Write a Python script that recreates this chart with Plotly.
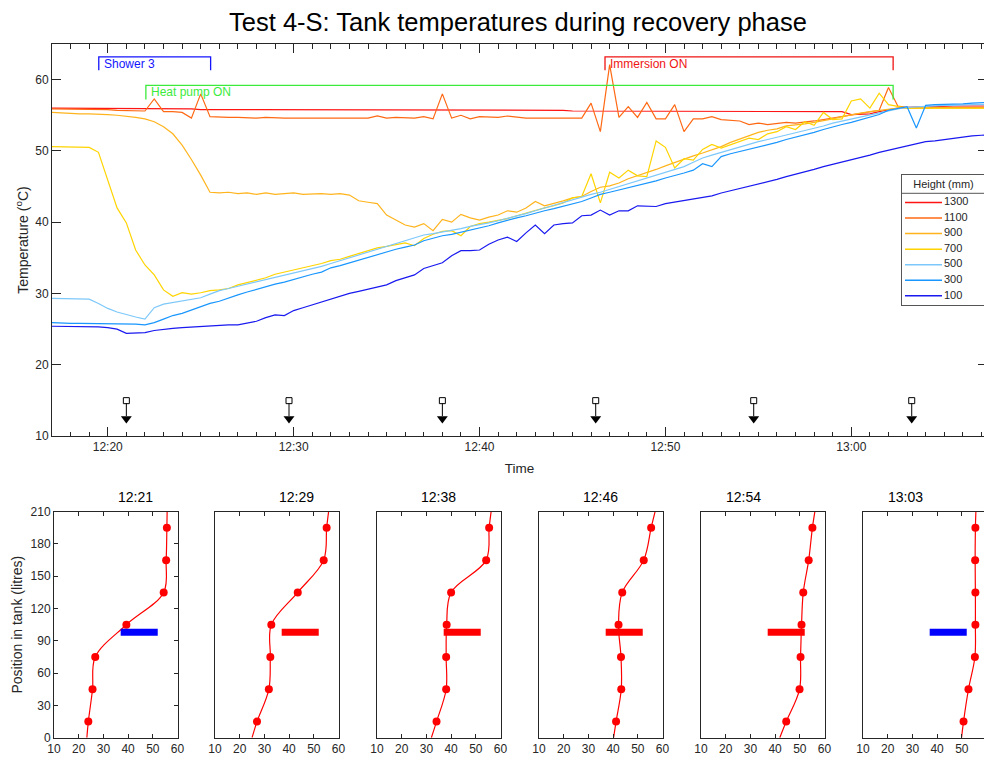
import pandas as pd
import plotly.graph_objects as go

FONT = "Liberation Sans, Arial, sans-serif"
INK = "#262626"

# tank sensor log, one reading every 30 s from 12:17:00
times = pd.date_range("2021-01-01 12:17:00", periods=102, freq="30s")

heights = ["1300", "1100", "900", "700", "500", "300", "100"]
colors = ["rgb(255,20,20)", "rgb(255,105,20)", "rgb(255,180,30)", "rgb(255,212,0)",
          "rgb(125,200,250)", "rgb(25,150,255)", "rgb(25,25,240)"]

t1300 = [56.0, 56.0, 56.0, 56.0, 56.0, 56.0, 55.9, 56.0, 55.9, 55.9,
         55.9, 55.9, 55.9, 55.9, 55.9, 55.9, 55.8, 55.8, 55.8, 55.8,
         55.8, 55.8, 55.8, 55.8, 55.8, 55.8, 55.8, 55.8, 55.8, 55.8,
         55.8, 55.8, 55.8, 55.8, 55.8, 55.7, 55.7, 55.7, 55.7, 55.7,
         55.7, 55.7, 55.7, 55.7, 55.7, 55.7, 55.7, 55.7, 55.7, 55.7,
         55.7, 55.7, 55.7, 55.7, 55.7, 55.7, 55.6, 55.6, 55.6, 55.6,
         55.6, 55.6, 55.6, 55.6, 55.6, 55.6, 55.6, 55.6, 55.6, 55.6,
         55.6, 55.6, 55.6, 55.6, 55.6, 55.6, 55.6, 55.6, 55.6, 55.6,
         55.6, 55.6, 55.6, 55.6, 55.6, 55.5, 55.1, 55.1, 55.2, 55.5,
         55.8, 56.0, 56.1, 56.2, 56.2, 56.2, 56.3, 56.3, 56.3, 56.3,
         56.3, 56.3]

t1100 = [55.9, 55.9, 55.8, 55.8, 55.8, 55.8, 55.8, 55.7, 55.7, 55.7,
         55.6, 57.3, 55.5, 55.5, 55.4, 54.6, 58.0, 54.8, 54.7, 54.7,
         54.7, 54.6, 54.6, 54.7, 54.6, 54.6, 54.6, 54.6, 54.6, 54.6,
         54.6, 54.6, 54.7, 54.6, 54.6, 54.9, 54.6, 54.7, 54.6, 54.6,
         54.8, 54.5, 58.0, 54.6, 55.0, 54.5, 54.8, 54.7, 54.7, 54.9,
         54.7, 54.6, 54.6, 54.6, 54.6, 54.6, 54.6, 54.6, 56.7, 52.7,
         62.1, 54.7, 56.2, 54.7, 56.8, 54.5, 54.5, 56.5, 52.7, 54.5,
         54.5, 54.8, 54.4, 54.3, 54.2, 53.7, 53.9, 53.7, 53.9, 54.0,
         53.9, 54.0, 54.2, 54.4, 54.6, 54.8, 55.0, 55.2, 55.4, 55.7,
         58.9, 56.3, 56.1, 56.0, 56.0, 56.1, 56.1, 56.0, 56.1, 56.1,
         56.1, 56.1]

t900 = [55.4, 55.3, 55.3, 55.2, 55.2, 55.2, 55.1, 55.0, 54.9, 54.7,
        54.5, 54.1, 53.4, 52.4, 50.8, 48.8, 46.6, 44.2, 44.1, 44.2,
        44.0, 44.1, 43.9, 44.1, 43.9, 44.0, 44.1, 43.9, 44.0, 44.0,
        43.9, 44.0, 43.8, 43.0, 42.8, 42.6, 41.0, 40.3, 39.6, 39.3,
        39.8, 38.8, 40.4, 40.0, 41.1, 40.6, 40.3, 40.7, 41.0, 41.6,
        41.4, 42.0, 42.9, 42.3, 42.6, 43.0, 43.4, 43.6, 44.3, 44.9,
        45.1, 45.5, 46.1, 46.5, 46.9, 47.4, 47.9, 48.4, 48.9, 49.3,
        49.7, 50.1, 50.6, 51.2, 51.7, 52.2, 52.6, 52.9, 53.1, 53.5,
        53.6, 53.8, 54.0, 54.2, 54.5, 54.8, 55.1, 55.3, 55.5, 55.7,
        55.9, 56.0, 56.0, 56.0, 56.0, 56.0, 56.0, 56.0, 56.0, 56.0,
        56.0, 56.0]

t700 = [50.6, 50.6, 50.5, 50.6, 50.5, 49.8, 46.0, 42.0, 39.9, 36.1,
        34.0, 32.6, 30.5, 29.6, 30.1, 29.9, 30.1, 30.4, 30.5, 30.7,
        31.2, 31.5, 31.9, 32.2, 32.7, 33.0, 33.2, 33.6, 33.9, 34.2,
        34.6, 34.8, 35.2, 35.6, 36.0, 36.4, 36.6, 36.9, 37.1, 36.7,
        37.7, 38.3, 38.7, 38.8, 38.1, 39.4, 39.8, 40.0, 40.2, 40.5,
        40.9, 41.3, 41.6, 42.0, 42.3, 42.7, 43.4, 43.6, 46.8, 42.7,
        47.0, 46.2, 47.3, 46.5, 46.4, 51.4, 50.5, 47.6, 48.9, 48.7,
        50.2, 50.9, 50.4, 50.9, 51.4, 51.8, 51.6, 52.4, 52.7, 53.4,
        53.0, 54.1, 53.6, 55.4, 54.4, 54.5, 57.0, 57.3, 56.0, 58.1,
        56.5, 56.2, 56.0, 56.0, 56.0, 56.0, 56.0, 56.0, 56.0, 56.0,
        56.0, 56.0]

t500 = [29.3, 29.3, 29.3, 29.3, 29.2, 28.6, 27.9, 27.4, 27.0, 26.7,
        26.4, 28.0, 28.5, 28.7, 28.9, 29.1, 29.4, 29.9, 30.4, 30.7,
        31.0, 31.3, 31.6, 31.9, 32.2, 32.5, 32.8, 33.1, 33.4, 33.8,
        34.2, 34.6, 35.0, 35.4, 35.8, 36.2, 36.7, 37.1, 37.5, 37.9,
        38.2, 38.4, 38.6, 38.9, 39.1, 39.4, 39.6, 39.9, 40.2, 40.5,
        40.9, 41.2, 41.6, 42.0, 42.3, 42.7, 43.1, 43.5, 43.9, 44.2,
        44.6, 45.0, 45.4, 45.8, 46.1, 46.5, 46.9, 47.3, 47.8, 48.4,
        49.0, 49.4, 49.8, 50.2, 50.6, 50.9, 51.3, 51.6, 51.9, 52.2,
        52.6, 52.9, 53.2, 53.5, 53.9, 54.2, 54.5, 54.8, 55.1, 55.4,
        55.7, 55.9, 56.1, 56.2, 56.3, 56.4, 56.4, 56.4, 56.5, 56.5,
        56.5, 56.5]

t300 = [25.9, 25.8, 25.8, 25.8, 25.8, 25.8, 25.8, 25.8, 25.7, 25.7,
        25.6, 25.9, 26.4, 26.9, 27.2, 27.7, 28.2, 28.6, 28.9, 29.4,
        29.8, 30.2, 30.6, 31.0, 31.3, 31.6, 32.0, 32.4, 32.7, 33.0,
        33.6, 33.9, 34.3, 34.6, 35.0, 35.4, 35.8, 36.2, 36.5, 36.8,
        37.4, 37.8, 38.1, 38.3, 38.6, 38.8, 39.2, 39.5, 39.9, 40.3,
        40.6, 40.9, 41.3, 41.6, 41.9, 42.2, 42.5, 42.9, 43.4, 43.9,
        44.2, 44.5, 44.9, 45.2, 45.5, 45.8, 46.2, 46.5, 46.9, 47.3,
        48.2, 47.8, 49.2, 49.6, 49.9, 50.3, 50.6, 50.9, 51.2, 51.6,
        51.9, 52.3, 52.6, 53.0, 53.4, 53.7, 54.0, 54.4, 54.7, 55.1,
        55.7, 56.0, 56.2, 53.2, 56.4, 56.5, 56.5, 56.6, 56.6, 56.7,
        56.8, 56.8]

t100 = [25.4, 25.4, 25.3, 25.3, 25.3, 25.3, 25.2, 25.0, 24.4, 24.5,
        24.5, 24.8, 25.0, 25.1, 25.2, 25.3, 25.4, 25.5, 25.6, 25.6,
        25.6, 25.8, 26.1, 26.6, 27.0, 26.9, 27.6, 28.0, 28.4, 28.9,
        29.2, 29.6, 30.0, 30.3, 30.6, 31.0, 31.2, 31.8, 32.2, 32.6,
        33.5, 33.9, 34.3, 35.3, 36.0, 36.0, 36.1, 36.9, 37.5, 37.9,
        37.3, 38.5, 39.6, 38.4, 39.6, 39.8, 39.9, 40.9, 41.0, 41.7,
        41.0, 41.6, 41.6, 42.3, 42.2, 42.2, 42.6, 42.8, 43.1, 43.3,
        43.5, 43.7, 44.1, 44.4, 44.8, 45.1, 45.4, 45.7, 46.0, 46.4,
        46.7, 47.0, 47.4, 47.8, 48.1, 48.5, 48.8, 49.0, 49.4, 49.8,
        50.1, 50.4, 50.8, 51.1, 51.3, 51.4, 51.6, 51.8, 52.0, 52.1,
        52.2, 52.3]

series = [t1300, t1100, t900, t700, t500, t300, t100]
for s in series:
    assert len(s) == len(times)

# events (bracket start, end, label, colour, bracket top, bracket foot)
events = [
    ("12:19:31", "12:25:32", "Shower 3", "rgb(20,20,255)", 63.2, 61.3),
    ("12:22:03", "13:02:15", "Heat pump ON", "rgb(60,235,60)", 59.2, 57.2),
    ("12:46:45", "13:02:15", "Immersion ON", "rgb(240,20,20)", 63.2, 61.3),
]

# profile snapshots
profile_times = ["12:21", "12:29", "12:38", "12:46", "12:54", "13:03"]
arrow_times = ["12:21:00", "12:29:45", "12:38:00", "12:46:15", "12:54:45", "13:03:15"]
sensor_pos = [15, 45, 75, 105, 135, 165, 195]
profiles = [
    [23.9, 25.6, 26.7, 39.3, 54.4, 55.4, 55.7],
    [27.0, 31.8, 32.4, 32.8, 43.5, 54.0, 55.2],
    [34.1, 38.0, 38.0, 38.2, 40.0, 54.2, 55.4],
    [41.2, 43.3, 43.2, 42.2, 43.7, 52.4, 55.4],
    [44.5, 49.9, 50.3, 50.7, 51.4, 53.6, 55.1],
    [50.7, 52.7, 55.3, 55.5, 55.5, 55.4, 55.5],
]
profile_bottom = [23.3, 25.0, 32.0, 40.2, 41.9, 49.9]   # curve at 0 litres
profile_top = [55.8, 56.0, 56.2, 57.0, 56.1, 55.7]      # curve at 210 litres
bar_colors = ["rgb(0,0,255)", "rgb(255,0,0)", "rgb(255,0,0)",
              "rgb(255,0,0)", "rgb(255,0,0)", "rgb(0,0,255)"]
bar_pos = 98
bar_span = [37, 52]

day = "2021-01-01 "
# the page puts the figure 8 px in from the window corner
OFF = 8
W, H = 992 - OFF, 758 - OFF


def px_x(p):
    return (p - OFF) / W


def px_y(p):
    return 1 - (p - OFF) / H


fig = go.Figure()

for name, col, vals in zip(heights, colors, series):
    fig.add_trace(go.Scatter(x=times, y=vals, name=name, mode="lines", showlegend=False,
                             line=dict(color=col, width=1.2), xaxis="x", yaxis="y"))

for start, end, label, col, top, foot in events:
    fig.add_trace(go.Scatter(x=[day + start, day + start, day + end, day + end],
                             y=[foot, top, top, foot], mode="lines",
                             line=dict(color=col, width=1.3), showlegend=False,
                             hoverinfo="skip", xaxis="x", yaxis="y"))
    fig.add_annotation(x=day + start, y=(top + foot) / 2, xref="x", yref="y",
                       text=label, showarrow=False, xanchor="left", xshift=3,
                       font=dict(color=col, size=12))

# arrows marking the profile times
ax_ = [day + a for a in arrow_times]
shaft_x, shaft_y = [], []
for a in ax_:
    shaft_x += [a, a, None]
    shaft_y += [14.6, 12.8, None]
fig.add_trace(go.Scatter(x=shaft_x, y=shaft_y, mode="lines", line=dict(color="black", width=1),
                         showlegend=False, hoverinfo="skip", xaxis="x", yaxis="y"))
fig.add_trace(go.Scatter(x=ax_, y=[12.42] * len(ax_), mode="markers",
                         marker=dict(symbol="triangle-down", size=9.5, color="black"),
                         showlegend=False, hoverinfo="skip", xaxis="x", yaxis="y"))
fig.add_trace(go.Scatter(x=ax_, y=[14.96] * len(ax_), mode="markers",
                         marker=dict(symbol="square-open", size=6, color="black",
                                     line=dict(width=1, color="black")),
                         showlegend=False, hoverinfo="skip", xaxis="x", yaxis="y"))

# legend drawn as its own little subplot (plotly's legend rows are too tall)
# box coordinates: x 0..83 px, y 0..130 px from the top of the box
rows = list(range(len(heights)))
for k in rows:
    yy = 27.5 + k * 15.55
    fig.add_trace(go.Scatter(x=[3, 40], y=[yy, yy], mode="lines",
                             line=dict(color=colors[k], width=1.5), showlegend=False,
                             hoverinfo="skip", xaxis="x8", yaxis="y8"))
fig.add_trace(go.Scatter(x=[42] * len(heights), y=[27.5 + k * 15.55 for k in rows],
                         mode="text", text=heights, textposition="middle right",
                         textfont=dict(size=11, color=INK), showlegend=False,
                         hoverinfo="skip", xaxis="x8", yaxis="y8"))
fig.add_trace(go.Scatter(x=[41.5], y=[10], mode="text", text=["Height (mm)"],
                         textposition="middle center", textfont=dict(size=11, color=INK),
                         showlegend=False, hoverinfo="skip", xaxis="x8", yaxis="y8"))
fig.add_trace(go.Scatter(x=[0, 83], y=[18.3, 18.3], mode="lines",
                         line=dict(color="#555555", width=1), showlegend=False,
                         hoverinfo="skip", xaxis="x8", yaxis="y8"))

axis_common = dict(showline=True, mirror="ticks", linecolor=INK, linewidth=1,
                   showgrid=False, zeroline=False, ticks="inside", tickcolor=INK,
                   automargin=False, tickfont=dict(size=12, color=INK))

layout = dict(
    width=W, height=H, margin=dict(l=0, r=0, t=0, b=0),
    plot_bgcolor="white", paper_bgcolor="white",
    font=dict(family=FONT, size=12, color=INK),
    showlegend=False,
    title=dict(text="Test 4-S: Tank temperatures during recovery phase",
               x=px_x(518), xanchor="center", y=px_y(22), yanchor="middle",
               yref="container", font=dict(size=25.5, color="black")),
    xaxis=dict(axis_common, domain=[px_x(52), px_x(987)], anchor="y", type="date",
               range=[day + "12:17:00", day + "13:07:18"], dtick=600000,
               tickformat="%H:%M", ticklen=9,
               minor=dict(dtick=60000, ticks="inside", ticklen=4.5, tickcolor=INK),
               title=dict(text="Time", standoff=10, font=dict(size=13.5, color=INK))),
    yaxis=dict(axis_common, domain=[px_y(436), px_y(44)], anchor="x", range=[10, 65],
               tickvals=[10, 20, 30, 40, 50, 60], ticklen=9,
               title=dict(text="Temperature (<sup>o</sup>C)", standoff=3,
                          font=dict(size=14, color=INK))),
    xaxis8=dict(domain=[px_x(902), px_x(985)], anchor="y8", range=[0, 83],
                showline=True, mirror=True, linecolor="#555555", linewidth=1,
                showgrid=False, zeroline=False, showticklabels=False, ticks=""),
    yaxis8=dict(domain=[px_y(305), px_y(175)], anchor="x8", range=[130, 0],
                showline=True, mirror=True, linecolor="#555555", linewidth=1,
                showgrid=False, zeroline=False, showticklabels=False, ticks=""),
)

panel_left = [54, 215, 377, 539, 701, 863]
panel_w = 123.5
for i in range(6):
    n = i + 2
    xa, ya = "x%d" % n, "y%d" % n
    left = panel_left[i]
    x_vals = [profile_bottom[i]] + profiles[i] + [profile_top[i]]
    y_vals = [0] + sensor_pos + [210]
    fig.add_trace(go.Scatter(x=x_vals, y=y_vals, mode="lines",
                             line=dict(color="rgb(255,0,0)", width=1.2, shape="spline"),
                             showlegend=False, hoverinfo="skip", xaxis=xa, yaxis=ya))
    fig.add_trace(go.Scatter(x=profiles[i], y=sensor_pos, mode="markers",
                             marker=dict(color="rgb(255,0,0)", size=8),
                             showlegend=False, xaxis=xa, yaxis=ya))
    fig.add_trace(go.Scatter(x=bar_span, y=[bar_pos, bar_pos], mode="lines",
                             line=dict(color=bar_colors[i], width=7),
                             showlegend=False, hoverinfo="skip", xaxis=xa, yaxis=ya))
    layout["xaxis%d" % n] = dict(axis_common, domain=[px_x(left), px_x(left + panel_w)],
                                 anchor=ya, range=[10, 60], tickvals=[10, 20, 30, 40, 50, 60],
                                 ticklen=4)
    ydict = dict(axis_common, domain=[px_y(737.7), px_y(511.7)], anchor=xa,
                 range=[0, 210], tickvals=list(range(0, 211, 30)), ticklen=4)
    if i == 0:
        ydict["title"] = dict(text="Position in tank (litres)", standoff=4,
                              font=dict(size=14, color=INK))
    else:
        ydict["showticklabels"] = False
        ydict["ticks"] = ""
    layout["yaxis%d" % n] = ydict
    fig.add_annotation(x=px_x(left + panel_w / 2), y=px_y(497), xref="paper", yref="paper",
                       text=profile_times[i], showarrow=False,
                       font=dict(size=14, color="black"))

fig.update_layout(**layout)
fig.write_html("out.html")
